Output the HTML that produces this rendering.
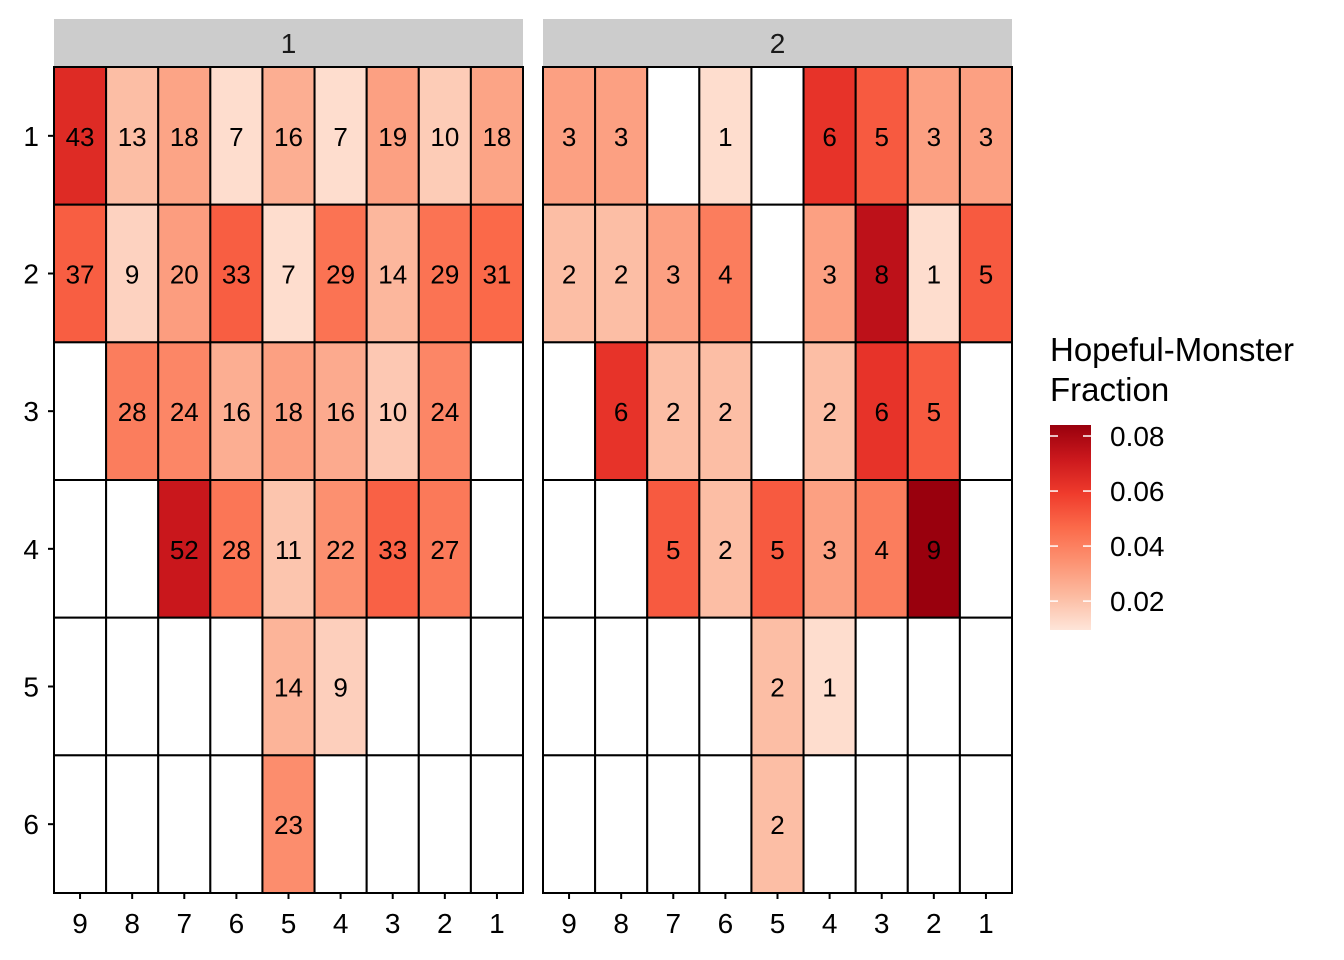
<!DOCTYPE html>
<html><head><meta charset="utf-8"><style>body{margin:0;background:#fff}svg{display:block;font-family:"Liberation Sans",sans-serif}</style></head>
<body>
<svg id="c" width="1344" height="960"></svg>
<script>
const xCats=[9,8,7,6,5,4,3,2,1];
const yCats=[1,2,3,4,5,6];
const facets=[1,2];
const counts1=[[43,13,18,7,16,7,19,10,18],[37,9,20,33,7,29,14,29,31],[null,28,24,16,18,16,10,24,null],[null,null,52,28,11,22,33,27,null],[null,null,null,null,14,9,null,null,null],[null,null,null,null,23,null,null,null,null]];
const fracs1=[[0.065,0.021,0.029,0.012,0.026,0.012,0.030,0.017,0.029],[0.050,0.015,0.031,0.050,0.012,0.044,0.023,0.044,0.047],[null,0.041,0.038,0.026,0.030,0.027,0.018,0.038,null],[null,null,0.072,0.043,0.019,0.035,0.049,0.042,null],[null,null,null,null,0.024,0.016,null,null,null],[null,null,null,null,0.036,null,null,null,null]];
const counts2=[[3,3,null,1,null,6,5,3,3],[2,2,3,4,null,3,8,1,5],[null,6,2,2,null,2,6,5,null],[null,null,5,2,5,3,4,9,null],[null,null,null,null,2,1,null,null,null],[null,null,null,null,2,null,null,null,null]];
const fracs2=[[0.030,0.030,null,0.012,null,0.062,0.051,0.030,0.030],[0.021,0.021,0.030,0.041,null,0.030,0.075,0.012,0.051],[null,0.062,0.021,0.021,null,0.021,0.062,0.051,null],[null,null,0.051,0.021,0.051,0.030,0.041,0.084,null],[null,null,null,null,0.021,0.012,null,null,null],[null,null,null,null,0.021,null,null,null,null]];
const legendTicks=[0.02,0.04,0.06,0.08];
const NS="http://www.w3.org/2000/svg";
const svg=document.getElementById('c');
const pal=["#fee5d9","#fcbba1","#fc9272","#fb6a4a","#ef3b2c","#cb181d","#99000d"];
const dMin=0.0095,dMax=0.084;
function hex(h){return [1,3,5].map(i=>parseInt(h.substr(i,2),16));}
function color(v){let t=Math.max(0,Math.min(1,(v-dMin)/(dMax-dMin)))*(pal.length-1);let i=Math.min(pal.length-2,Math.floor(t)),f=t-i;const a=hex(pal[i]),b=hex(pal[i+1]);return "rgb("+a.map((x,k)=>Math.round(x+(b[k]-x)*f)).join(",")+")";}
function el(tag,attrs,parent){const e=document.createElementNS(NS,tag);for(const k in attrs)e.setAttribute(k,attrs[k]);(parent||svg).appendChild(e);return e;}
const panelX=[54,543],panelW=469,panelTop=67,panelBottom=893;
const cw=panelW/xCats.length,ch=(panelBottom-panelTop)/yCats.length;
function xPos(p,i){return panelX[p]+i*cw;}
function yPos(j){return panelTop+j*ch;}
const allC=[counts1,counts2],allF=[fracs1,fracs2];
facets.forEach((fv,p)=>{
  const s=el('rect',{x:panelX[p],y:19,width:panelW,height:48,fill:'#cccccc'});
  
  
  const st=el('text',{x:panelX[p]+panelW/2,y:53,'text-anchor':'middle','font-size':28,fill:'#1a1a1a'});st.textContent=fv;
  
  
  yCats.forEach((yv,j)=>xCats.forEach((xv,i)=>{
    const f=allF[p][j][i],c=allC[p][j][i];
    const r=el('rect',{x:xPos(p,i),y:yPos(j),width:cw,height:ch,fill:f==null?'#fff':color(f),stroke:'#000','stroke-width':2});
    
    
    if(c!=null){const t=el('text',{x:xPos(p,i)+cw/2,y:yPos(j)+ch/2+10,'text-anchor':'middle','font-size':26,fill:'#000'});t.textContent=c;
      
      }
  }));
  el('line',{x1:panelX[p],x2:panelX[p]+panelW,y1:panelBottom,y2:panelBottom,stroke:'#000','stroke-width':2});
  el('line',{x1:panelX[p],x2:panelX[p],y1:panelTop,y2:panelBottom,stroke:'#000','stroke-width':2});
  xCats.forEach((xv,i)=>{const cx=xPos(p,i)+cw/2;el('line',{x1:cx,x2:cx,y1:panelBottom,y2:panelBottom+6,stroke:'#000','stroke-width':2});
    const t=el('text',{x:cx,y:933,'text-anchor':'middle','font-size':28,fill:'#000'});t.textContent=xv;
    
    });
});
yCats.forEach((yv,j)=>{const cy=yPos(j)+ch/2;el('line',{x1:48,x2:54,y1:cy,y2:cy,stroke:'#000','stroke-width':2});
  const t=el('text',{x:39,y:cy+10,'text-anchor':'end','font-size':28,fill:'#000'});t.textContent=yv;
  
  });
const lt=el('text',{x:1050,y:361,'font-size':33,fill:'#000'});lt.textContent='Hopeful-Monster';


const lt2=el('text',{x:1050,y:401,'font-size':33,fill:'#000'});lt2.textContent='Fraction';


const defs=el('defs',{});const g=el('linearGradient',{id:'lg',x1:0,y1:1,x2:0,y2:0},defs);
pal.forEach((c,i)=>el('stop',{offset:i/(pal.length-1),'stop-color':c},g));
const bar=el('rect',{x:1050,y:425,width:41,height:205,fill:'url(#lg)'});


function ly(v){return 425+(dMax-v)/(dMax-dMin)*205;}
legendTicks.forEach(v=>{const y=ly(v);
  el('line',{x1:1050,x2:1058,y1:y,y2:y,stroke:'#fff','stroke-width':1.5});
  el('line',{x1:1083,x2:1091,y1:y,y2:y,stroke:'#fff','stroke-width':1.5});
  const t=el('text',{x:1110,y:y+10,'font-size':28,fill:'#000'});t.textContent=v.toFixed(2);
  
  });
</script>
</body></html>
